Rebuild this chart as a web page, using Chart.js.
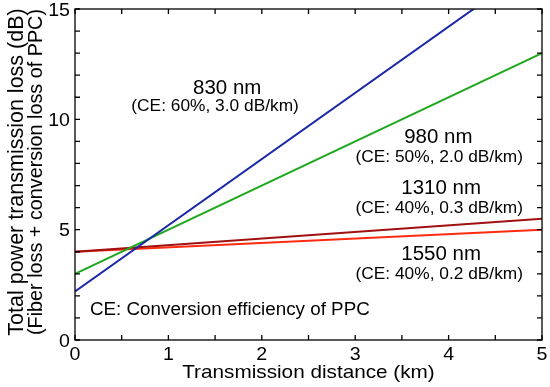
<!DOCTYPE html>
<html>
<head>
<meta charset="utf-8">
<script src="https://cdn.jsdelivr.net/npm/chart.js@4/dist/chart.umd.min.js"></script>
<style>
  html, body { margin: 0; padding: 0; background: #fff; }
  #wrap { width: 550px; height: 387px; }
</style>
</head>
<body>
<div id="wrap"><canvas id="c" width="550" height="387"></canvas></div>
<script>
const distance = [0, 5];
const loss830 = [2.2, 17.2];
const loss980 = [3.0, 13.0];
const loss1310 = [4.0, 5.5];
const loss1550 = [4.0, 5.0];

const labels = [
  { x: 1.63, y: 11.46, text: "830 nm", size: 19.5 },
  { x: 1.50, y: 10.65, text: "(CE: 60%, 3.0 dB/km)", size: 16.5 },
  { x: 3.89, y: 9.24, text: "980 nm", size: 19.5 },
  { x: 3.90, y: 8.34, text: "(CE: 50%, 2.0 dB/km)", size: 16.5 },
  { x: 3.92, y: 6.93, text: "1310 nm", size: 19.5 },
  { x: 3.90, y: 6.03, text: "(CE: 40%, 0.3 dB/km)", size: 16.5 },
  { x: 3.92, y: 3.94, text: "1550 nm", size: 19.5 },
  { x: 3.90, y: 3.04, text: "(CE: 40%, 0.2 dB/km)", size: 16.5 }
];

const xTitle = "Transmission distance (km)";
const yTitle = ["Total power transmission loss (dB)", "(Fiber loss + conversion loss of PPC)"];
const note = "CE: Conversion efficiency of PPC";

const pts = ys => distance.map((x, i) => ({ x, y: ys[i] }));
const FONT = "'Liberation Sans', Arial, sans-serif";

const line = (data, color) => ({
  data: pts(data), borderColor: color, borderWidth: 2,
  pointRadius: 0, showLine: true, fill: false
});

// text slightly stretched sideways like the source image
function text(ctx, str, x, y, size, align, sx) {
  ctx.save();
  ctx.translate(x, y);
  ctx.scale(sx, 1);
  ctx.font = size + "px " + FONT;
  ctx.textAlign = align;
  ctx.fillText(str, 0, 0);
  ctx.restore();
}

/* inward ticks on all four sides + all texts */
const decor = {
  id: "decor",
  afterDatasetsDraw(chart) {
    const { ctx, chartArea: a, scales: { x, y } } = chart;
    ctx.save();
    ctx.strokeStyle = "#000";
    ctx.lineWidth = 1.3;
    ctx.strokeRect(a.left, a.top, a.right - a.left, a.bottom - a.top);
    ctx.beginPath();
    for (let v = 0; v <= 5; v += 0.5) {
      const px = x.getPixelForValue(v);
      ctx.moveTo(px, a.bottom); ctx.lineTo(px, a.bottom - 5);
      ctx.moveTo(px, a.top); ctx.lineTo(px, a.top + 5);
    }
    for (let v = 0; v <= 15; v += 1) {
      const py = y.getPixelForValue(v);
      ctx.moveTo(a.left, py); ctx.lineTo(a.left + 5, py);
      ctx.moveTo(a.right, py); ctx.lineTo(a.right - 5, py);
    }
    ctx.stroke();

    ctx.fillStyle = "#000";
    ctx.textBaseline = "alphabetic";

    // tick labels
    x.ticks.forEach(t => text(ctx, String(t.value), x.getPixelForValue(t.value), a.bottom + 20, 17.5, "center", 1.12));
    y.ticks.forEach(t => text(ctx, String(t.value), a.left - 5, y.getPixelForValue(t.value) + 6.5, 17.5, "right", 1.12));

    // axis titles
    text(ctx, xTitle, (a.left + a.right) / 2, 378, 18.5, "center", 1.12);
    ctx.save();
    ctx.translate(0, 172);
    ctx.rotate(-Math.PI / 2);
    text(ctx, yTitle[0], 0, 23, 21.5, "center", 1);
    text(ctx, yTitle[1], 0, 42, 19.8, "center", 1);
    ctx.restore();

    // annotations
    labels.forEach(l => text(ctx, l.text, x.getPixelForValue(l.x), y.getPixelForValue(l.y) + l.size * 0.36, l.size, "center", 1.05));
    text(ctx, note, x.getPixelForValue(0.16), y.getPixelForValue(1.45) + 6.5, 18, "left", 1.045);
    ctx.restore();
  }
};

new Chart(document.getElementById("c"), {
  type: "scatter",
  data: {
    datasets: [
      line(loss830, "#1a28a8"),
      line(loss980, "#1fa81f"),
      line(loss1310, "#a01010"),
      line(loss1550, "#ff2a10")
    ]
  },
  options: {
    responsive: false,
    animation: false,
    layout: { padding: { top: 9, right: 8, left: 0, bottom: 0 } },
    plugins: { legend: { display: false }, tooltip: { enabled: false } },
    scales: {
      x: {
        type: "linear", min: 0, max: 5,
        border: { display: false },
        grid: { display: false },
        ticks: { stepSize: 1, display: false },
        afterFit: s => { s.height = 47; s.paddingLeft = 0; s.paddingRight = 0; }
      },
      y: {
        min: 0, max: 15,
        border: { display: false },
        grid: { display: false },
        ticks: { stepSize: 5, display: false },
        afterFit: s => { s.width = 75; s.paddingTop = 0; s.paddingBottom = 0; }
      }
    }
  },
  plugins: [decor]
});
</script>
</body>
</html>
